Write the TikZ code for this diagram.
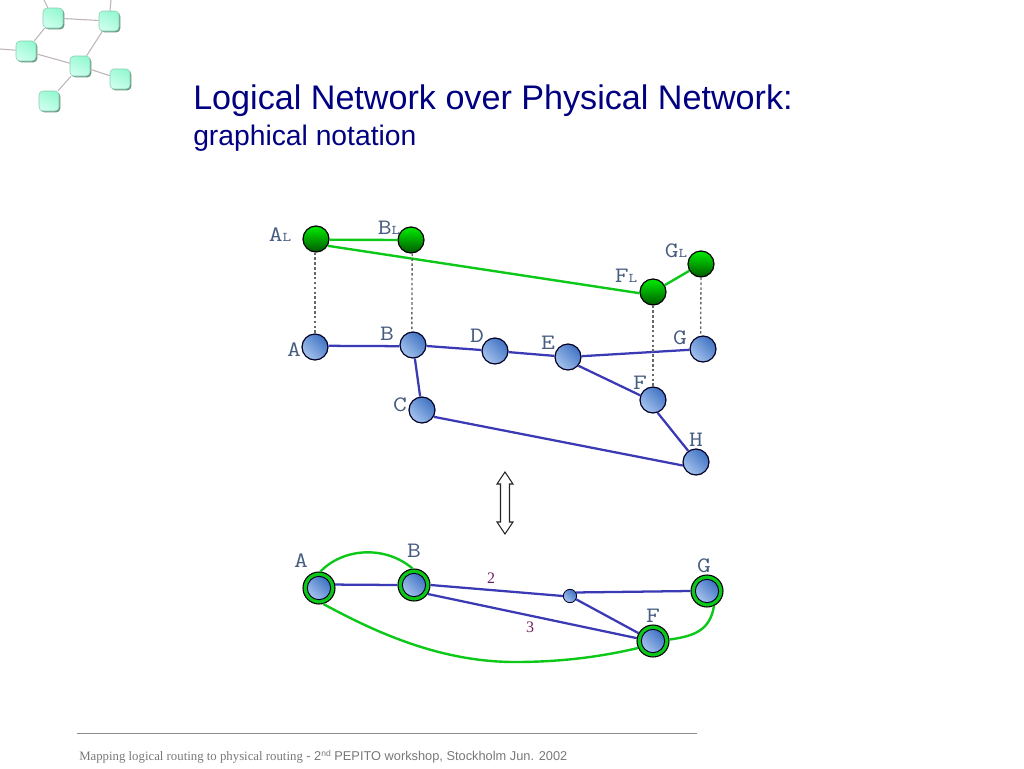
\documentclass[tikz,border=0pt]{standalone}
\usepackage{fontspec}
\setmainfont{Liberation Sans}
\setmonofont[FakeStretch=1.22]{Latin Modern Mono}
\newfontfamily\serifface{Liberation Serif}
\usetikzlibrary{shadows}
\definecolor{navytitle}{RGB}{0,0,128}
\definecolor{edgeblue}{RGB}{58,58,180}
\definecolor{edgegreen}{RGB}{12,200,24}
\definecolor{ballblue}{RGB}{64,114,194}
\definecolor{ballbluelight}{RGB}{165,195,238}
\definecolor{ballgreen}{RGB}{0,235,0}
\definecolor{ballgreenmid}{RGB}{0,190,0}
\definecolor{ballgreendark}{RGB}{0,90,0}
\definecolor{labelslate}{RGB}{70,92,128}
\definecolor{numpurple}{RGB}{112,30,100}
\definecolor{footgrey}{RGB}{120,120,120}
\definecolor{mintdark}{RGB}{150,248,210}
\definecolor{mintlight}{RGB}{205,255,238}
\definecolor{mintedge}{RGB}{135,205,175}
\definecolor{mintshadow}{RGB}{105,150,130}
\definecolor{logoline}{RGB}{190,180,185}
\tikzset{
  x=0.75pt,y=-0.75pt,
  physball/.style={circle,draw=black!85!blue,line width=0.9pt,minimum size=19.5pt,inner sep=0pt,
    shading=axis,left color=ballblue,right color=ballbluelight,shading angle=-45},
  logball/.style={circle,draw=black,line width=0.9pt,minimum size=19.5pt,inner sep=0pt,
    top color=ballgreen,middle color=ballgreenmid,bottom color=ballgreendark},
  ringball/.style={circle,draw=black,line width=0.8pt,minimum size=24pt,inner sep=0pt,fill=edgegreen},
  ringcore/.style={circle,draw=black!85!blue,line width=0.7pt,minimum size=17.5pt,inner sep=0pt,
    shading=axis,left color=ballblue,right color=ballbluelight,shading angle=-45},
  tinyball/.style={circle,draw=black!85!blue,line width=0.6pt,minimum size=10pt,inner sep=0pt,
    shading=axis,left color=ballblue,right color=ballbluelight,shading angle=-45},
  phys/.style={draw=edgeblue,line width=1.7pt},
  logi/.style={draw=edgegreen,line width=1.8pt},
  drop/.style={draw=black!60,line width=1pt,dash pattern=on 1.9pt off 1.75pt},
  nm/.style={text=labelslate,font=\ttfamily\fontsize{16.5}{18}\selectfont,inner sep=0pt},
  num/.style={text=numpurple,font=\serifface\fontsize{12}{14}\selectfont,inner sep=0pt},
  logobox/.style={draw=mintedge,line width=0.4pt,rounded corners=3pt,minimum size=15pt,inner sep=0pt,
    top color=mintdark,bottom color=mintlight,shading angle=-30,
    drop shadow={shadow xshift=1pt,shadow yshift=-1pt,fill=mintshadow,opacity=1}},
  logolink/.style={draw=logoline,line width=0.8pt},
}
\newcommand{\lsub}{{\fontsize{10}{10}\selectfont L}}
\begin{document}
\begin{tikzpicture}
\useasboundingbox (0,0) rectangle (1024,768);
% logo
\coordinate (e1) at (44,0);
\coordinate (e2) at (111,0);
\coordinate (e3) at (0,49);
\node[logobox] (m1) at (53,18) {};
\node[logobox] (m2) at (109,21) {};
\node[logobox] (m3) at (26,51) {};
\node[logobox] (m4) at (80,66) {};
\node[logobox] (m5) at (120,79) {};
\node[logobox] (m6) at (49,101) {};
\draw[logolink] (m1)--(e1) (m2)--(e2) (m3)--(e3) (m1)--(m2) (m1)--(m3) (m2)--(m4) (m3)--(m4) (m4)--(m5) (m4)--(m6);
% title
\node[anchor=base west,inner sep=0pt,text=navytitle,font=\fontsize{25.6}{28}\selectfont] (title) at (193,109) {Logical Network over Physical Network:};
\node[anchor=base west,inner sep=0pt,text=navytitle,font=\fontsize{21.2}{24}\selectfont] (subtitle) at (193,145) {graphical notation};
% upper network
\node[logball] (AL) at (316,239) {};
\node[logball] (BL) at (411,240) {};
\node[logball] (FL) at (653,292) {};
\node[logball] (GL) at (701,264) {};
\node[physball] (A) at (315,347) {};
\node[physball] (B) at (413,345) {};
\node[physball] (C) at (422,410) {};
\node[physball] (D) at (495,351) {};
\node[physball] (E) at (568,357) {};
\node[physball] (F) at (653,400) {};
\node[physball] (G) at (703,349) {};
\node[physball] (H) at (696,462) {};
\draw[logi] (AL.-3)--(BL.west) (AL.-30)--(FL.185) (FL)--(GL);
\draw[phys] (A.5)--(B.185) (B)--(D) (D)--(E) (E)--(G) (E.-40)--(F.160) (F.-70)--(H.125) (B)--(C) (C.-30)--(H.195);
\draw[drop] (A.north |- AL.south)--(A.north);
\draw[drop] (BL.-85)--(B.95);
\draw[drop] (FL)--(F);
\draw[drop] (GL.south)--(G.100);
\node[nm] at (280,235) {A\lsub};
\node[nm] at (389,228) {B\lsub};
\node[nm] at (676,251) {G\lsub};
\node[nm] at (626,276) {F\lsub};
\node[nm] at (294,350) {A};
\node[nm] at (387,334) {B};
\node[nm] at (400,405) {C};
\node[nm] at (477,336) {D};
\node[nm] at (548,343) {E};
\node[nm] at (640,383) {F};
\node[nm] at (680,338) {G};
\node[nm] at (696,440) {H};
% double arrow
\draw[draw=black!85,line width=0.8pt,fill=white] (505,472)--(513,484)--(509.5,484)--(509.5,522)--(513,522)--(505,534)--(497,522)--(500.5,522)--(500.5,484)--(497,484)--cycle;
% lower network
\node[ringball] (LA) at (319,588) {};
\node[ringball] (LB) at (414,585) {};
\node[ringball] (LF) at (653,641) {};
\node[ringball] (LG) at (707,591) {};
\node[ringcore] at (LA) {};
\node[ringcore] at (LB) {};
\node[ringcore] at (LF) {};
\node[ringcore] at (LG) {};
\node[tinyball] (LM) at (570,596) {};
\draw[phys] (LA.12)--(LB.west) (LB.east)--(LM.west) (LM.30)--(LG.west) (LM)--(LF) (LB.-33)--(LF.170);
\draw[logi] (LA.85) .. controls (343,548) and (385,545) .. (LB.95);
\draw[logi] (LA.-75) .. controls (375,632) and (440,662) .. (515,662) .. controls (560,662) and (600,657) .. (LF.205);
\draw[logi] (LF.5) .. controls (695,636) and (710,630) .. (LG.-65);
\node[nm] at (301,561) {A};
\node[nm] at (414,551) {B};
\node[nm] at (704,566) {G};
\node[nm] at (653,616) {F};
\node[num] at (491,578) {2};
\node[num] at (530,627) {3};
% footer
\coordinate (r1) at (77,733.5);
\coordinate (r2) at (697,733.5);
\draw[draw=black!45,line width=0.8pt] (r1)--(r2);
\node[anchor=base west,inner sep=0pt,text=footgrey,font=\fontsize{9.6}{11}\selectfont] (foot) at (79,760) {{\serifface Mapping logical routing to physical routing} - 2\raisebox{0.5ex}{\fontsize{6.4}{7}\selectfont nd} PEPITO workshop, Stockholm Jun. 2002};
\end{tikzpicture}
\end{document}
